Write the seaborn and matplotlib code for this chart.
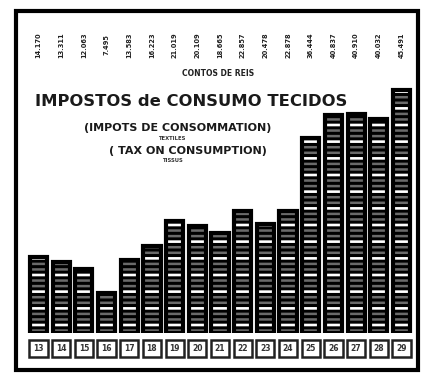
import matplotlib
matplotlib.use("Agg")
import matplotlib.pyplot as plt
import matplotlib.patches as mpatches
import matplotlib.transforms as mtrans
import seaborn as sns
import pandas as pd

years = ["13", "14", "15", "16", "17", "18", "19", "20", "21",
         "22", "23", "24", "25", "26", "27", "28", "29"]
values = [14170, 13311, 12063, 7495, 13583, 16223, 21019, 20109, 18665,
          22857, 20478, 22878, 36444, 40837, 40910, 40032, 45491]
value_labels = ["14.170", "13.311", "12.063", "7.495", "13.583", "16.223",
                "21.019", "20.109", "18.665", "22.857", "20.478", "22.878",
                "36.444", "40.837", "40.910", "40.032", "45.491"]

df = pd.DataFrame({"ano": years, "valor": values})

sns.set_theme(style="white")
plt.rcParams["font.family"] = ["DejaVu Sans"]
plt.rcParams["hatch.linewidth"] = 1.8

W, H = 436, 375
fig = plt.figure(figsize=(W / 100, H / 100), dpi=100)
fig.patch.set_facecolor("white")

left, right = 26, 414
bottom, top = 333, 25
ax = fig.add_axes([left / W, 1 - bottom / H, (right - left) / W, (bottom - top) / H])
ax.set_facecolor("white")

BW = 0.76
n = len(years)
# layer 1: solid black bars
sns.barplot(data=df, x="ano", y="valor", color="black", width=BW,
            saturation=1, ax=ax)
for p in ax.patches[-n:]:
    p.set_linewidth(0)
# layer 2: grey fine stripes
sns.barplot(data=df, x="ano", y="valor", fill=False, width=BW,
            color="#6a6a6a", ax=ax)
for p in ax.patches[-n:]:
    p.set_hatch("---")
    p.set_edgecolor("#6a6a6a")
    p.set_linewidth(0)
# layer 3: white stripes
sns.barplot(data=df, x="ano", y="valor", fill=False, width=BW,
            color="white", ax=ax)
for p in ax.patches[-n:]:
    p.set_hatch("-")
    p.set_edgecolor("white")
    p.set_linewidth(0)
# layer 4: black outline
sns.barplot(data=df, x="ano", y="valor", fill=False, width=BW,
            color="black", ax=ax)
for p in ax.patches[-n:]:
    p.set_edgecolor("black")
    p.set_linewidth(3.0)

ymax = max(values) * 308 / 243
ax.set_ylim(0, ymax)
ax.set_xlim(-0.55, n - 0.45)
for s in ax.spines.values():
    s.set_visible(False)
ax.set_yticks([])
ax.set_xlabel("")
ax.set_ylabel("")
ax.tick_params(axis="x", length=0, pad=8)
ax.set_xticks(range(n))
ax.set_xticklabels(years, fontsize=5.5, fontweight="bold", color="#333333",
                   bbox=dict(boxstyle="square,pad=0.5", fc="white",
                             ec="#222222", lw=1.8))

tr = mtrans.blended_transform_factory(ax.transData, fig.transFigure)
for i, lab in enumerate(value_labels):
    ax.text(i, 1 - 45 / H, lab, transform=tr, rotation=90, ha="center",
            va="center", fontsize=4.8, fontweight="bold", color="#222222")

fig.text(218 / W, 1 - 73 / H, "CONTOS DE REIS", ha="center", va="center",
         fontsize=5.5, fontweight="bold", color="#222222")
fig.text(35 / W, 1 - 102 / H, "IMPOSTOS de CONSUMO TECIDOS", ha="left",
         va="center", fontsize=11.8, fontweight="bold", color="#1a1a1a")
fig.text(178 / W, 1 - 128 / H, "(IMPOTS DE CONSOMMATION)", ha="center",
         va="center", fontsize=8, fontweight="bold", color="#1a1a1a")
fig.text(172 / W, 1 - 138 / H, "TEXTILES", ha="center", va="center",
         fontsize=3.8, fontweight="bold", color="#333333")
fig.text(188 / W, 1 - 151 / H, "( TAX ON CONSUMPTION)", ha="center",
         va="center", fontsize=8, fontweight="bold", color="#1a1a1a")
fig.text(172 / W, 1 - 160 / H, "TISSUS", ha="center", va="center",
         fontsize=3.8, fontweight="bold", color="#333333")

frame = mpatches.Rectangle((16 / W, 1 - 370 / H), (418 - 16) / W, (370 - 11) / H,
                           transform=fig.transFigure, fill=False,
                           ec="black", lw=3)
fig.add_artist(frame)

fig.savefig("out.png", dpi=100, facecolor="white")
